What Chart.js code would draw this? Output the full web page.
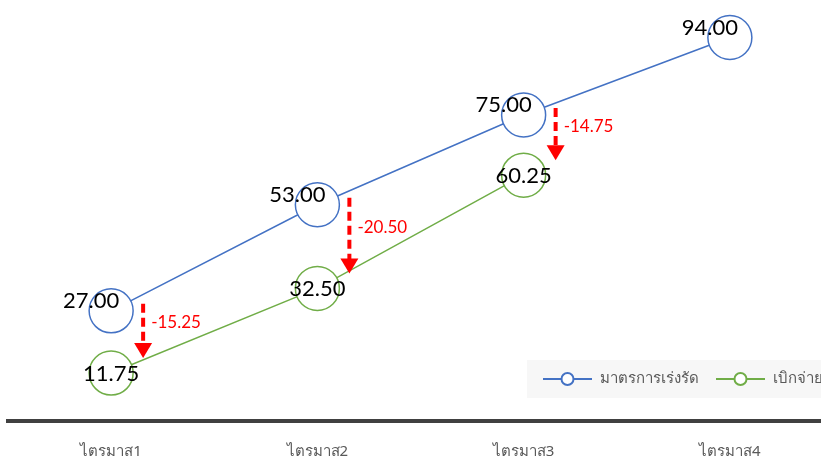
<!DOCTYPE html>
<html>
<head>
<meta charset="utf-8">
<script src="https://cdn.jsdelivr.net/npm/chart.js@4"></script>
<style>
    html, body { margin: 0; padding: 0; background: #fff; overflow: hidden; }
    #wrap { width: 833px; height: 459px; position: relative; }
</style>
</head>
<body>
<div id="wrap"><canvas id="quarterChart"></canvas></div>
<script>
const categories = ['ไตรมาส1', 'ไตรมาส2', 'ไตรมาส3', 'ไตรมาส4'];
const seriesNames = ['มาตรการเร่งรัด', 'เบิกจ่าย'];
const targetValues = [27.00, 53.00, 75.00, 94.00];
const spentValues = [11.75, 32.50, 60.25, null];

const blue = '#4472C4';
const green = '#70AD47';

// value labels on every point
const valueLabels = {
    id: 'valueLabels',
    afterDatasetsDraw(chart) {
        const ctx = chart.ctx;
        ctx.save();
        ctx.fillStyle = '#000';
        ctx.font = '22px Lato';
        ctx.textAlign = 'center';
        ctx.textBaseline = 'middle';
        chart.data.datasets.forEach((ds, di) => {
            const meta = chart.getDatasetMeta(di);
            meta.data.forEach((pt, i) => {
                const v = ds.data[i];
                if (v == null) return;
                const dx = di === 0 ? -20 : 0;
                const dy = di === 0 ? -10 : 1;
                ctx.fillText(v.toFixed(2), pt.x + dx, pt.y + dy);
            });
        });
        ctx.restore();
    }
};

// red dashed arrows showing the gap between the two series
const gapArrows = {
    id: 'gapArrows',
    afterDatasetsDraw(chart) {
        const ctx = chart.ctx;
        const top = chart.getDatasetMeta(0).data;
        const bottom = chart.getDatasetMeta(1).data;
        ctx.save();
        spentValues.forEach((v, i) => {
            if (v == null) return;
            const x = top[i].x + 32;
            const y1 = top[i].y - 7;
            const tip = bottom[i].y - 15;
            ctx.strokeStyle = '#FF0000';
            ctx.fillStyle = '#FF0000';
            ctx.lineWidth = 4;
            ctx.setLineDash([9, 5]);
            ctx.beginPath();
            ctx.moveTo(x, y1);
            ctx.lineTo(x, tip - 13);
            ctx.stroke();
            ctx.setLineDash([]);
            ctx.beginPath();
            ctx.moveTo(x - 9, tip - 15);
            ctx.lineTo(x + 9, tip - 15);
            ctx.lineTo(x, tip);
            ctx.closePath();
            ctx.fill();
            ctx.font = '17px Lato';
            ctx.textAlign = 'left';
            ctx.textBaseline = 'middle';
            const diff = v - targetValues[i];
            ctx.fillText(diff.toFixed(2), x + 8, (y1 + tip) / 2 - 8);
        });
        ctx.restore();
    }
};

// legend box sitting inside the plot, lower right
const innerLegend = {
    id: 'innerLegend',
    afterDraw(chart) {
        const ctx = chart.ctx;
        ctx.save();
        ctx.fillStyle = '#F7F7F7';
        ctx.fillRect(527, 360, 320, 38);
        const cy = 379;
        let x = 543;
        chart.data.datasets.forEach((ds) => {
            ctx.strokeStyle = ds.borderColor;
            ctx.lineWidth = 2;
            ctx.beginPath();
            ctx.moveTo(x, cy);
            ctx.lineTo(x + 49, cy);
            ctx.stroke();
            ctx.fillStyle = '#fff';
            ctx.beginPath();
            ctx.arc(x + 24.5, cy, 6, 0, Math.PI * 2);
            ctx.fill();
            ctx.stroke();
            ctx.fillStyle = '#595959';
            ctx.font = '15px "Noto Sans", sans-serif';
            ctx.textAlign = 'left';
            ctx.textBaseline = 'middle';
            ctx.fillText(ds.label, x + 57, cy);
            x += 57 + ctx.measureText(ds.label).width + 17;
        });
        ctx.restore();
    }
};

new Chart(document.getElementById('quarterChart'), {
    type: 'line',
    data: {
        labels: categories,
        datasets: [
            {
                label: seriesNames[0],
                data: targetValues,
                borderColor: blue,
                backgroundColor: '#fff',
                borderWidth: 1.5,
                pointRadius: 22,
                pointBorderWidth: 1.5,
                pointBackgroundColor: '#fff',
                pointBorderColor: blue
            },
            {
                label: seriesNames[1],
                data: spentValues,
                borderColor: green,
                backgroundColor: '#fff',
                borderWidth: 1.5,
                pointRadius: 22,
                pointBorderWidth: 1.5,
                pointBackgroundColor: '#fff',
                pointBorderColor: green
            }
        ]
    },
    options: {
        responsive: true,
        maintainAspectRatio: false,
        animation: false,
        layout: { autoPadding: false, padding: { top: 13, left: 8, right: 0, bottom: 0 } },
        plugins: {
            legend: { display: false },
            tooltip: { enabled: false }
        },
        scales: {
            x: {
                offset: true,
                grid: { display: false, drawTicks: false },
                border: { display: true, color: '#404040', width: 4 },
                ticks: {
                    color: '#595959',
                    font: { size: 15, family: '"Noto Sans", sans-serif' },
                    padding: 22
                },
                afterFit(scale) {
                    scale.paddingLeft = 0;
                    scale.paddingRight = 0;
                    scale.height = 38;
                }
            },
            y: {
                display: false,
                min: 0,
                max: 100
            }
        }
    },
    plugins: [valueLabels, gapArrows, innerLegend]
});
</script>
</body>
</html>
